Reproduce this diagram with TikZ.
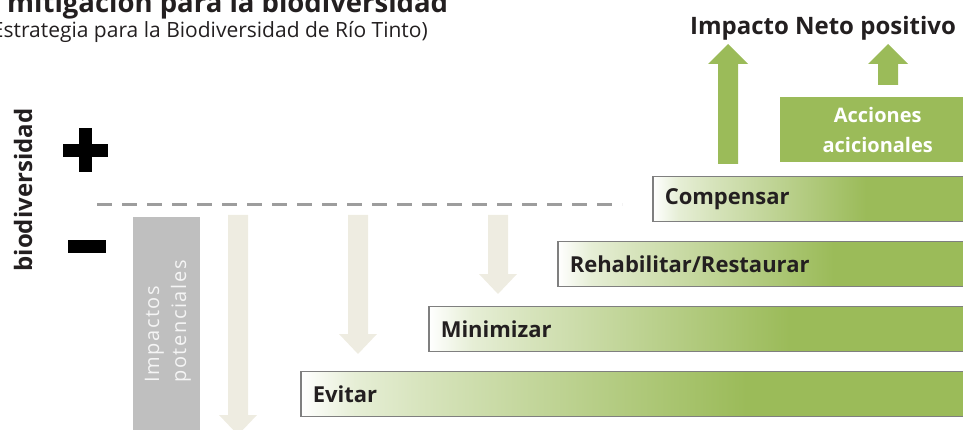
\documentclass[tikz,border=0pt]{standalone}
\usepackage{fontspec}
\setmainfont{Open Sans}
\usetikzlibrary{positioning}
\definecolor{leafgreen}{HTML}{9BBB59}
\definecolor{tanarrow}{HTML}{EEECE1}
\definecolor{impactgray}{HTML}{BFBFBF}
\definecolor{barline}{HTML}{7F7F7F}
\definecolor{dashgray}{HTML}{9D9D9D}
\definecolor{inkdark}{HTML}{231F20}
\pgfdeclarehorizontalshading{barfade}{100bp}{color(0bp)=(white); color(25bp)=(white); color(29bp)=(leafgreen!25); color(34bp)=(leafgreen!40); color(42bp)=(leafgreen!60); color(50bp)=(leafgreen!80); color(58bp)=(leafgreen); color(100bp)=(leafgreen)}
\newcommand{\stepfont}{\fontsize{22}{26}\selectfont\bfseries}
\tikzset{stepbar/.style={draw=barline, line width=1.5pt, shade, shading=barfade, minimum height=45, inner xsep=12, inner ysep=0, align=left, anchor=west, text=inkdark, font=\stepfont}}

\begin{document}
\begin{tikzpicture}[x=1pt,y=-1pt]
  \useasboundingbox (0,0) rectangle (963,430);
  % titulos
  \node[font=\fontsize{27.5}{32}\selectfont\bfseries, text=inkdark, anchor=base west, inner sep=0] (titulo) at (7,13) {mitigación para la biodiversidad};
  \node[font=\fontsize{21}{24}\selectfont, text=inkdark, anchor=base east, inner sep=0] (subtitulo) at (428,38) {(Estrategia para la Biodiversidad de Río Tinto)};
  \node[font=\fontsize{24}{28}\selectfont\bfseries, text=inkdark, anchor=base, inner sep=0] (neto) at (823,35) {Impacto Neto positivo};
  % eje
  \node[font=\fontsize{24}{28}\selectfont\bfseries, text=inkdark, rotate=90, inner sep=0] (eje) at (23,190) {biodiversidad};
  \fill[black] (63,144) rectangle (108,157);
  \fill[black] (79,128) rectangle (92,172);
  \fill[black] (68,240) rectangle (106,253);
  \draw[dashgray, line width=3pt, dash pattern=on 15pt off 10pt] (97,205) -- (622,205);
  % impactos
  \fill[impactgray] (133,217) rectangle (200,440);
  \node[font=\fontsize{20}{27}\selectfont\addfontfeatures{LetterSpace=8}, text=white!85!impactgray, rotate=90, align=left, anchor=west, inner sep=0] (impactos) at (168,383) {Impactos\\potenciales};
  \foreach \xc/\ytip in {238/435, 358/354, 498/294}
    \fill[tanarrow] (\xc-10,215) -- (\xc+10,215) -- (\xc+10,\ytip-20) -- (\xc+19,\ytip-20) -- (\xc,\ytip) -- (\xc-19,\ytip-20) -- (\xc-10,\ytip-20) -- cycle;
  % jerarquia
  \node[stepbar, text width=299pt] (compensar) at (652,199) {Compensar};
  \node[stepbar, text width=394pt] (rehabilitar) at (557,264) {Rehabilitar/Restaurar};
  \node[stepbar, text width=523pt] (minimizar) at (428,329) {Minimizar};
  \node[stepbar, text width=651pt] (evitar) at (300,394) {Evitar};
  \node[fill=leafgreen, text=white, font=\fontsize{20}{30}\selectfont\bfseries, align=center, anchor=north west, minimum width=195, minimum height=65, inner sep=0] (acciones) at (780,97) {Acciones\\acicionales};
  \foreach \xc/\ybot in {728/164, 888/85}
    \fill[leafgreen] (\xc-10,\ybot) -- (\xc+10,\ybot) -- (\xc+10,64) -- (\xc+20,64) -- (\xc,44) -- (\xc-20,64) -- (\xc-10,64) -- cycle;
\end{tikzpicture}
\end{document}
